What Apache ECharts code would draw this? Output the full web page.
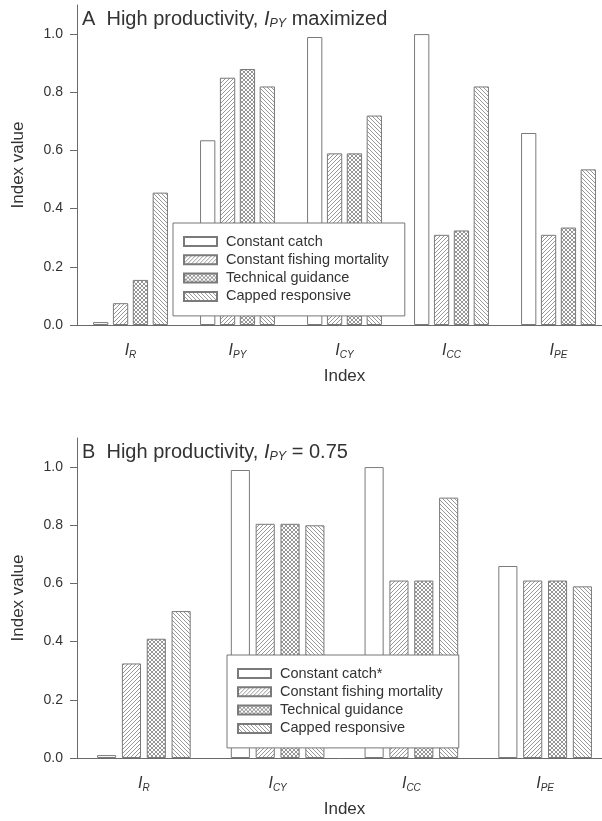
<!DOCTYPE html>
<html>
<head>
<meta charset="utf-8">
<script src="https://cdn.jsdelivr.net/npm/echarts@6/dist/echarts.min.js"></script>
<style>
  * { margin: 0; padding: 0; }
  body { background: #fff; }
</style>
</head>
<body>
<div id="chart" style="width: 602px; height: 821px;"></div>
<script>
// panel A: high productivity, I_PY maximized
var catsA = ['R', 'PY', 'CY', 'CC', 'PE'];
var constCatchA = [0.01, 0.635, 0.99, 1.0, 0.66];
var constFA = [0.075, 0.85, 0.59, 0.31, 0.31];
var techA = [0.155, 0.88, 0.59, 0.325, 0.335];
var cappedA = [0.455, 0.82, 0.72, 0.82, 0.535];

// panel B: high productivity, I_PY = 0.75
var catsB = ['R', 'CY', 'CC', 'PE'];
var constCatchB = [0.01, 0.99, 1.0, 0.66];
var constFB = [0.325, 0.805, 0.61, 0.61];
var techB = [0.41, 0.805, 0.61, 0.61];
var cappedB = [0.505, 0.80, 0.895, 0.59];

var yTicks = [0, 0.2, 0.4, 0.6, 0.8, 1.0];
var namesA = ['Constant catch', 'Constant fishing mortality', 'Technical guidance', 'Capped responsive'];
var namesB = ['Constant catch*', 'Constant fishing mortality', 'Technical guidance', 'Capped responsive'];

var FONT = '"Liberation Sans", Arial, sans-serif';
var TXT = '#333';
var AXIS = '#6a6a6a';
var EDGE = '#7a7a7a';

function hatch(fwd, back) {
  var s = 4;
  var c = document.createElement('canvas');
  c.width = s; c.height = s;
  var g = c.getContext('2d');
  g.fillStyle = '#fff';
  g.fillRect(0, 0, s, s);
  g.strokeStyle = '#8a8a8a';
  g.lineWidth = 0.9;
  g.beginPath();
  for (var k = -1; k <= 2; k++) {
    if (fwd) { g.moveTo(k * s, 0); g.lineTo(k * s - s, s); }
    if (back) { g.moveTo(k * s - s, 0); g.lineTo(k * s, s); }
  }
  g.stroke();
  return { image: c, repeat: 'repeat' };
}

var fills = ['#fff', hatch(true, false), hatch(true, true), hatch(false, true)];

var rich = {
  i: { fontFamily: FONT, fontStyle: 'italic', fontSize: 16, color: TXT, lineHeight: 18 },
  s: { fontFamily: FONT, fontStyle: 'italic', fontSize: 10, color: TXT, lineHeight: 10, verticalAlign: 'bottom' }
};

function xAx(idx, cats) {
  return {
    type: 'category', gridIndex: idx, data: cats,
    name: 'Index', nameLocation: 'middle', nameGap: 43,
    nameTextStyle: { fontFamily: FONT, fontSize: 17, color: TXT },
    axisLine: { lineStyle: { color: AXIS, width: 1 } },
    axisTick: { alignWithLabel: true, length: 4, lineStyle: { color: AXIS } },
    axisLabel: {
      margin: 17, rich: rich,
      formatter: function (v) { return '{i|I}{s|' + v + '}'; }
    }
  };
}

function yAx(idx) {
  return {
    type: 'value', gridIndex: idx, min: 0, max: 1.1, interval: 0.2,
    name: 'Index value', nameLocation: 'middle', nameGap: 50,
    nameTextStyle: { fontFamily: FONT, fontSize: 17, color: TXT },
    splitLine: { show: false },
    axisLine: { show: true, lineStyle: { color: AXIS, width: 1 } },
    axisTick: { show: true, length: 7, customValues: yTicks, lineStyle: { color: AXIS } },
    axisLabel: {
      customValues: yTicks, margin: 14, fontFamily: FONT, fontSize: 14, color: TXT,
      formatter: function (v) { return v.toFixed(1); }
    }
  };
}

function bars(names, arrs, idx) {
  return arrs.map(function (d, k) {
    return {
      name: names[k], type: 'bar', xAxisIndex: idx, yAxisIndex: idx, data: d,
      barCategoryGap: '30%', barGap: '30%',
      itemStyle: { color: fills[k], borderColor: EDGE, borderWidth: 1 },
      emphasis: { disabled: true }
    };
  });
}

function legend(names, left, top) {
  return {
    data: names, orient: 'vertical', left: left, top: top,
    selectedMode: false, icon: 'rect', itemWidth: 33, itemHeight: 9, itemGap: 3.3,
    borderColor: '#777', borderWidth: 1, padding: [11, 16, 12, 10],
    backgroundColor: '#fff',
    textStyle: { fontFamily: FONT, fontSize: 14.5, color: TXT, lineHeight: 15, padding: [0, 0, 0, 4] }
  };
}

var titleRich = {
  t: { fontFamily: FONT, fontSize: 20, fontWeight: 'normal', color: TXT, lineHeight: 22 },
  i: { fontFamily: FONT, fontSize: 20, fontWeight: 'normal', fontStyle: 'italic', color: TXT, lineHeight: 22 },
  s: { fontFamily: FONT, fontSize: 12.5, fontWeight: 'normal', fontStyle: 'italic', color: TXT, lineHeight: 12, verticalAlign: 'bottom' }
};

var chart = echarts.init(document.getElementById('chart'), null, { renderer: 'canvas' });
chart.setOption({
  animation: false,
  backgroundColor: '#fff',
  title: [
    { text: '{t|A  High productivity, }{i|I}{s|PY}{t| maximized}', left: 82, top: 8, padding: 0, textStyle: { fontWeight: 'normal', rich: titleRich } },
    { text: '{t|B  High productivity, }{i|I}{s|PY}{t| = 0.75}', left: 82, top: 441, padding: 0, textStyle: { fontWeight: 'normal', rich: titleRich } }
  ],
  legend: [legend(namesA, 173, 223), legend(namesB, 227, 655)],
  grid: [
    { left: 77, width: 535, top: 5, height: 320, outerBoundsMode: 'none' },
    { left: 77, width: 535, top: 438, height: 320, outerBoundsMode: 'none' }
  ],
  xAxis: [xAx(0, catsA), xAx(1, catsB)],
  yAxis: [yAx(0), yAx(1)],
  series: bars(namesA, [constCatchA, constFA, techA, cappedA], 0)
    .concat(bars(namesB, [constCatchB, constFB, techB, cappedB], 1))
});
</script>
</body>
</html>
